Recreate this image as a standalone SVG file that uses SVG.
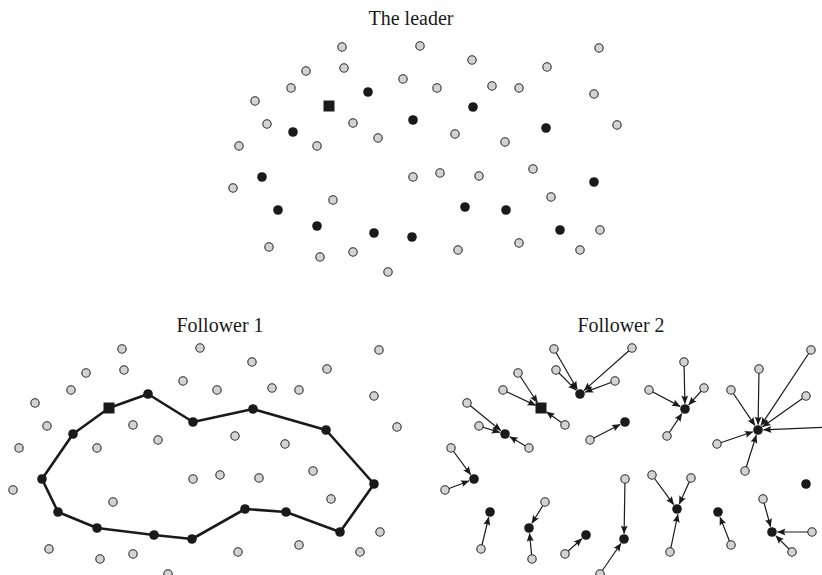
<svg xmlns="http://www.w3.org/2000/svg" width="822" height="575" viewBox="0 0 822 575">
<style>
.g{fill:#d3d3d3;stroke:#2a2a2a;stroke-width:1.1}
.b{fill:#1a1a1a}
.t{font-family:"Liberation Serif","DejaVu Serif",serif;font-size:20px;fill:#1a1a1a;text-anchor:middle}
.c{stroke:#1a1a1a;stroke-width:1.2;fill:none;marker-end:url(#ah)}
.tour{stroke:#1a1a1a;stroke-width:2.6;fill:none;stroke-linejoin:round}
</style>
<defs>
<marker id="ah" viewBox="-9 -4 10 8" refX="0" refY="0" markerWidth="10" markerHeight="8" markerUnits="userSpaceOnUse" orient="auto"><path d="M0.5,0 L-8,-3.5 Q-5.5,0 -8,3.5 Z" fill="#1a1a1a"/></marker>
</defs>
<rect width="822" height="575" fill="#fff"/>
<text class="t" x="411" y="25">The leader</text>
<text class="t" x="220" y="332">Follower 1</text>
<text class="t" x="621" y="332">Follower 2</text>

<g id="connectors">
<path class="tour" d="M109,408 L148,394 L193,422 L253,409 L326,430 L374,484 L340,532 L286,512 L245,509 L192,539 L154,535 L97,528 L58,512 L42,479 L73,434 Z"/>
<line class="c" x1="554" y1="349" x2="577.2" y2="389.2"/>
<line class="c" x1="632" y1="348" x2="584.1" y2="390.4"/>
<line class="c" x1="556" y1="370" x2="576.1" y2="390.1"/>
<line class="c" x1="615" y1="381" x2="585.2" y2="392.1"/>
<line class="c" x1="518" y1="373" x2="537.4" y2="402.5"/>
<line class="c" x1="503" y1="390" x2="535.5" y2="405.4"/>
<line class="c" x1="565" y1="425" x2="546.5" y2="411.9"/>
<line class="c" x1="467" y1="403" x2="500.7" y2="430.5"/>
<line class="c" x1="479" y1="426" x2="499.7" y2="432.4"/>
<line class="c" x1="529" y1="448" x2="509.8" y2="436.8"/>
<line class="c" x1="590" y1="440" x2="620.1" y2="424.5"/>
<line class="c" x1="451" y1="448" x2="470.7" y2="474.6"/>
<line class="c" x1="445" y1="490" x2="468.9" y2="481.0"/>
<line class="c" x1="684" y1="362" x2="684.9" y2="403.5"/>
<line class="c" x1="649" y1="390" x2="680.1" y2="406.4"/>
<line class="c" x1="704" y1="388" x2="688.7" y2="404.9"/>
<line class="c" x1="667" y1="436" x2="681.9" y2="413.6"/>
<line class="c" x1="759" y1="369" x2="758.1" y2="424.5"/>
<line class="c" x1="731" y1="390" x2="754.9" y2="425.4"/>
<line class="c" x1="811" y1="350" x2="761.0" y2="425.4"/>
<line class="c" x1="806" y1="396" x2="762.5" y2="426.8"/>
<line class="c" x1="829" y1="427" x2="763.5" y2="429.8"/>
<line class="c" x1="717" y1="444" x2="752.8" y2="431.8"/>
<line class="c" x1="745" y1="471" x2="756.3" y2="435.2"/>
<line class="c" x1="481" y1="549" x2="488.7" y2="517.3"/>
<line class="c" x1="545" y1="502" x2="531.9" y2="523.3"/>
<line class="c" x1="532" y1="559" x2="529.5" y2="533.5"/>
<line class="c" x1="565" y1="554" x2="581.9" y2="538.7"/>
<line class="c" x1="625" y1="479" x2="624.1" y2="533.5"/>
<line class="c" x1="600" y1="574" x2="620.9" y2="543.5"/>
<line class="c" x1="652" y1="475" x2="673.7" y2="504.6"/>
<line class="c" x1="691" y1="478" x2="679.3" y2="504.0"/>
<line class="c" x1="670" y1="552" x2="677.9" y2="514.4"/>
<line class="c" x1="731" y1="545" x2="720.0" y2="517.1"/>
<line class="c" x1="763" y1="499" x2="770.6" y2="526.7"/>
<line class="c" x1="812" y1="532" x2="777.5" y2="532"/>
<line class="c" x1="792" y1="552" x2="775.9" y2="535.9"/>
</g>

<g id="leader">
<g id="L-g1"><circle class="g" cx="342" cy="47" r="4.2"/></g>
<g id="L-g2"><circle class="g" cx="420" cy="46" r="4.2"/></g>
<g id="L-g3"><circle class="g" cx="599" cy="48" r="4.2"/></g>
<g id="L-g4"><circle class="g" cx="306" cy="71" r="4.2"/></g>
<g id="L-g5"><circle class="g" cx="344" cy="68" r="4.2"/></g>
<g id="L-g6"><circle class="g" cx="403" cy="79" r="4.2"/></g>
<g id="L-g7"><circle class="g" cx="437" cy="88" r="4.2"/></g>
<g id="L-g8"><circle class="g" cx="472" cy="60" r="4.2"/></g>
<g id="L-g9"><circle class="g" cx="492" cy="86" r="4.2"/></g>
<g id="L-g10"><circle class="g" cx="519" cy="88" r="4.2"/></g>
<g id="L-g11"><circle class="g" cx="547" cy="67" r="4.2"/></g>
<g id="L-g12"><circle class="g" cx="594" cy="94" r="4.2"/></g>
<g id="L-g13"><circle class="g" cx="617" cy="125" r="4.2"/></g>
<g id="L-g14"><circle class="g" cx="291" cy="88" r="4.2"/></g>
<g id="L-g15"><circle class="g" cx="255" cy="101" r="4.2"/></g>
<g id="L-g16"><circle class="g" cx="267" cy="124" r="4.2"/></g>
<g id="L-g17"><circle class="g" cx="353" cy="123" r="4.2"/></g>
<g id="L-g18"><circle class="g" cx="378" cy="138" r="4.2"/></g>
<g id="L-g19"><circle class="g" cx="455" cy="134" r="4.2"/></g>
<g id="L-g20"><circle class="g" cx="505" cy="142" r="4.2"/></g>
<g id="L-g21"><circle class="g" cx="239" cy="146" r="4.2"/></g>
<g id="L-g22"><circle class="g" cx="317" cy="146" r="4.2"/></g>
<g id="L-g23"><circle class="g" cx="233" cy="188" r="4.2"/></g>
<g id="L-g24"><circle class="g" cx="413" cy="177" r="4.2"/></g>
<g id="L-g25"><circle class="g" cx="333" cy="200" r="4.2"/></g>
<g id="L-g26"><circle class="g" cx="269" cy="247" r="4.2"/></g>
<g id="L-g27"><circle class="g" cx="320" cy="257" r="4.2"/></g>
<g id="L-g28"><circle class="g" cx="353" cy="252" r="4.2"/></g>
<g id="L-g29"><circle class="g" cx="388" cy="272" r="4.2"/></g>
<g id="L-g30"><circle class="g" cx="440" cy="173" r="4.2"/></g>
<g id="L-g31"><circle class="g" cx="479" cy="176" r="4.2"/></g>
<g id="L-g32"><circle class="g" cx="533" cy="169" r="4.2"/></g>
<g id="L-g33"><circle class="g" cx="551" cy="197" r="4.2"/></g>
<g id="L-g34"><circle class="g" cx="458" cy="250" r="4.2"/></g>
<g id="L-g35"><circle class="g" cx="600" cy="230" r="4.2"/></g>
<g id="L-g36"><circle class="g" cx="519" cy="243" r="4.2"/></g>
<g id="L-g37"><circle class="g" cx="580" cy="250" r="4.2"/></g>
<g id="L-A"><circle class="b" cx="368" cy="92" r="4.8"/></g>
<g id="L-B"><circle class="b" cx="413" cy="120" r="4.8"/></g>
<g id="L-C"><circle class="b" cx="293" cy="132" r="4.8"/></g>
<g id="L-D"><circle class="b" cx="473" cy="107" r="4.8"/></g>
<g id="L-E"><circle class="b" cx="546" cy="128" r="4.8"/></g>
<g id="L-F"><circle class="b" cx="262" cy="177" r="4.8"/></g>
<g id="L-G"><circle class="b" cx="278" cy="210" r="4.8"/></g>
<g id="L-H"><circle class="b" cx="317" cy="226" r="4.8"/></g>
<g id="L-I"><circle class="b" cx="374" cy="233" r="4.8"/></g>
<g id="L-J"><circle class="b" cx="412" cy="237" r="4.8"/></g>
<g id="L-K"><circle class="b" cx="594" cy="182" r="4.8"/></g>
<g id="L-L"><circle class="b" cx="465" cy="207" r="4.8"/></g>
<g id="L-M"><circle class="b" cx="506" cy="210" r="4.8"/></g>
<g id="L-N"><circle class="b" cx="560" cy="230" r="4.8"/></g>
<g id="L-S"><rect class="b" x="323.5" y="100.5" width="11" height="11"/></g>
</g>

<g id="follower1">
<g id="F1-g1"><circle class="g" cx="122" cy="349" r="4.2"/></g>
<g id="F1-g2"><circle class="g" cx="200" cy="348" r="4.2"/></g>
<g id="F1-g3"><circle class="g" cx="379" cy="350" r="4.2"/></g>
<g id="F1-g4"><circle class="g" cx="86" cy="373" r="4.2"/></g>
<g id="F1-g5"><circle class="g" cx="124" cy="370" r="4.2"/></g>
<g id="F1-g6"><circle class="g" cx="183" cy="381" r="4.2"/></g>
<g id="F1-g7"><circle class="g" cx="217" cy="390" r="4.2"/></g>
<g id="F1-g8"><circle class="g" cx="252" cy="362" r="4.2"/></g>
<g id="F1-g9"><circle class="g" cx="272" cy="388" r="4.2"/></g>
<g id="F1-g10"><circle class="g" cx="299" cy="390" r="4.2"/></g>
<g id="F1-g11"><circle class="g" cx="327" cy="369" r="4.2"/></g>
<g id="F1-g12"><circle class="g" cx="374" cy="396" r="4.2"/></g>
<g id="F1-g13"><circle class="g" cx="397" cy="427" r="4.2"/></g>
<g id="F1-g14"><circle class="g" cx="71" cy="390" r="4.2"/></g>
<g id="F1-g15"><circle class="g" cx="35" cy="403" r="4.2"/></g>
<g id="F1-g16"><circle class="g" cx="47" cy="426" r="4.2"/></g>
<g id="F1-g17"><circle class="g" cx="133" cy="425" r="4.2"/></g>
<g id="F1-g18"><circle class="g" cx="158" cy="440" r="4.2"/></g>
<g id="F1-g19"><circle class="g" cx="235" cy="436" r="4.2"/></g>
<g id="F1-g20"><circle class="g" cx="285" cy="444" r="4.2"/></g>
<g id="F1-g21"><circle class="g" cx="19" cy="448" r="4.2"/></g>
<g id="F1-g22"><circle class="g" cx="97" cy="448" r="4.2"/></g>
<g id="F1-g23"><circle class="g" cx="13" cy="490" r="4.2"/></g>
<g id="F1-g24"><circle class="g" cx="193" cy="479" r="4.2"/></g>
<g id="F1-g25"><circle class="g" cx="113" cy="502" r="4.2"/></g>
<g id="F1-g26"><circle class="g" cx="49" cy="549" r="4.2"/></g>
<g id="F1-g27"><circle class="g" cx="100" cy="559" r="4.2"/></g>
<g id="F1-g28"><circle class="g" cx="133" cy="554" r="4.2"/></g>
<g id="F1-g29"><circle class="g" cx="168" cy="574" r="4.2"/></g>
<g id="F1-g30"><circle class="g" cx="220" cy="475" r="4.2"/></g>
<g id="F1-g31"><circle class="g" cx="259" cy="478" r="4.2"/></g>
<g id="F1-g32"><circle class="g" cx="313" cy="471" r="4.2"/></g>
<g id="F1-g33"><circle class="g" cx="331" cy="499" r="4.2"/></g>
<g id="F1-g34"><circle class="g" cx="238" cy="552" r="4.2"/></g>
<g id="F1-g35"><circle class="g" cx="380" cy="532" r="4.2"/></g>
<g id="F1-g36"><circle class="g" cx="299" cy="545" r="4.2"/></g>
<g id="F1-g37"><circle class="g" cx="360" cy="552" r="4.2"/></g>
<g id="F1-A"><circle class="b" cx="148" cy="394" r="4.8"/></g>
<g id="F1-B"><circle class="b" cx="193" cy="422" r="4.8"/></g>
<g id="F1-C"><circle class="b" cx="73" cy="434" r="4.8"/></g>
<g id="F1-D"><circle class="b" cx="253" cy="409" r="4.8"/></g>
<g id="F1-E"><circle class="b" cx="326" cy="430" r="4.8"/></g>
<g id="F1-F"><circle class="b" cx="42" cy="479" r="4.8"/></g>
<g id="F1-G"><circle class="b" cx="58" cy="512" r="4.8"/></g>
<g id="F1-H"><circle class="b" cx="97" cy="528" r="4.8"/></g>
<g id="F1-I"><circle class="b" cx="154" cy="535" r="4.8"/></g>
<g id="F1-J"><circle class="b" cx="192" cy="539" r="4.8"/></g>
<g id="F1-K"><circle class="b" cx="374" cy="484" r="4.8"/></g>
<g id="F1-L"><circle class="b" cx="245" cy="509" r="4.8"/></g>
<g id="F1-M"><circle class="b" cx="286" cy="512" r="4.8"/></g>
<g id="F1-N"><circle class="b" cx="340" cy="532" r="4.8"/></g>
<g id="F1-S"><rect class="b" x="103.5" y="402.5" width="11" height="11"/></g>
</g>

<g id="follower2">
<g id="F2-g1"><circle class="g" cx="554" cy="349" r="4.2"/></g>
<g id="F2-g2"><circle class="g" cx="632" cy="348" r="4.2"/></g>
<g id="F2-g3"><circle class="g" cx="811" cy="350" r="4.2"/></g>
<g id="F2-g4"><circle class="g" cx="518" cy="373" r="4.2"/></g>
<g id="F2-g5"><circle class="g" cx="556" cy="370" r="4.2"/></g>
<g id="F2-g6"><circle class="g" cx="615" cy="381" r="4.2"/></g>
<g id="F2-g7"><circle class="g" cx="649" cy="390" r="4.2"/></g>
<g id="F2-g8"><circle class="g" cx="684" cy="362" r="4.2"/></g>
<g id="F2-g9"><circle class="g" cx="704" cy="388" r="4.2"/></g>
<g id="F2-g10"><circle class="g" cx="731" cy="390" r="4.2"/></g>
<g id="F2-g11"><circle class="g" cx="759" cy="369" r="4.2"/></g>
<g id="F2-g12"><circle class="g" cx="806" cy="396" r="4.2"/></g>
<g id="F2-g13"><circle class="g" cx="829" cy="427" r="4.2"/></g>
<g id="F2-g14"><circle class="g" cx="503" cy="390" r="4.2"/></g>
<g id="F2-g15"><circle class="g" cx="467" cy="403" r="4.2"/></g>
<g id="F2-g16"><circle class="g" cx="479" cy="426" r="4.2"/></g>
<g id="F2-g17"><circle class="g" cx="565" cy="425" r="4.2"/></g>
<g id="F2-g18"><circle class="g" cx="590" cy="440" r="4.2"/></g>
<g id="F2-g19"><circle class="g" cx="667" cy="436" r="4.2"/></g>
<g id="F2-g20"><circle class="g" cx="717" cy="444" r="4.2"/></g>
<g id="F2-g21"><circle class="g" cx="451" cy="448" r="4.2"/></g>
<g id="F2-g22"><circle class="g" cx="529" cy="448" r="4.2"/></g>
<g id="F2-g23"><circle class="g" cx="445" cy="490" r="4.2"/></g>
<g id="F2-g24"><circle class="g" cx="625" cy="479" r="4.2"/></g>
<g id="F2-g25"><circle class="g" cx="545" cy="502" r="4.2"/></g>
<g id="F2-g26"><circle class="g" cx="481" cy="549" r="4.2"/></g>
<g id="F2-g27"><circle class="g" cx="532" cy="559" r="4.2"/></g>
<g id="F2-g28"><circle class="g" cx="565" cy="554" r="4.2"/></g>
<g id="F2-g29"><circle class="g" cx="600" cy="574" r="4.2"/></g>
<g id="F2-g30"><circle class="g" cx="652" cy="475" r="4.2"/></g>
<g id="F2-g31"><circle class="g" cx="691" cy="478" r="4.2"/></g>
<g id="F2-g32"><circle class="g" cx="745" cy="471" r="4.2"/></g>
<g id="F2-g33"><circle class="g" cx="763" cy="499" r="4.2"/></g>
<g id="F2-g34"><circle class="g" cx="670" cy="552" r="4.2"/></g>
<g id="F2-g35"><circle class="g" cx="812" cy="532" r="4.2"/></g>
<g id="F2-g36"><circle class="g" cx="731" cy="545" r="4.2"/></g>
<g id="F2-g37"><circle class="g" cx="792" cy="552" r="4.2"/></g>
<g id="F2-A"><circle class="b" cx="580" cy="394" r="4.8"/></g>
<g id="F2-B"><circle class="b" cx="625" cy="422" r="4.8"/></g>
<g id="F2-C"><circle class="b" cx="505" cy="434" r="4.8"/></g>
<g id="F2-D"><circle class="b" cx="685" cy="409" r="4.8"/></g>
<g id="F2-E"><circle class="b" cx="758" cy="430" r="4.8"/></g>
<g id="F2-F"><circle class="b" cx="474" cy="479" r="4.8"/></g>
<g id="F2-G"><circle class="b" cx="490" cy="512" r="4.8"/></g>
<g id="F2-H"><circle class="b" cx="529" cy="528" r="4.8"/></g>
<g id="F2-I"><circle class="b" cx="586" cy="535" r="4.8"/></g>
<g id="F2-J"><circle class="b" cx="624" cy="539" r="4.8"/></g>
<g id="F2-K"><circle class="b" cx="806" cy="484" r="4.8"/></g>
<g id="F2-L"><circle class="b" cx="677" cy="509" r="4.8"/></g>
<g id="F2-M"><circle class="b" cx="718" cy="512" r="4.8"/></g>
<g id="F2-N"><circle class="b" cx="772" cy="532" r="4.8"/></g>
<g id="F2-S"><rect class="b" x="535.5" y="402.5" width="11" height="11"/></g>
</g>
</svg>
